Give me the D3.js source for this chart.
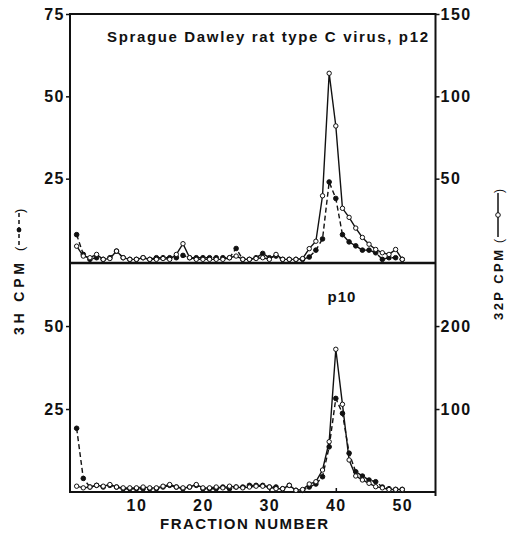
<!doctype html>
<html>
<head>
<meta charset="utf-8">
<script src="https://d3js.org/d3.v7.min.js"></script>
<style>
  body { margin: 0; background: #fff; }
  text { font-family: "Liberation Sans", Arial, sans-serif; font-weight: bold; fill: #111; }
</style>
</head>
<body>
<div id="chart"></div>
<script>
// fraction numbers 1..50
var fractions = d3.range(1, 51);

// top panel: Sprague Dawley rat type C virus, p12
var topH3 = [8, 2, 0.5, 1, 0.5, 1, 3, 1, 0.5, 0.5, 1, 0.5, 1, 1, 1, 1, 1.7, 1, 1, 1,
             1, 1, 1, 1, 3.8, 0.5, 0.5, 1, 2.3, 1, 1.5, 0.5, 0.5, 0.5, 0.5, 1.2, 3.3, 6.7, 24, 19,
             8, 5.8, 4.6, 3.3, 3.3, 2.5, 0.5, 1, 1, 0.5];
var topP32 = [9, 3, 2, 4, 1, 1.5, 6, 2, 1, 1, 2, 1, 1, 1.5, 1, 4, 10.5, 2, 1, 1,
              1, 1, 1, 2, 3, 1, 1, 1.5, 2, 1, 4, 1, 1, 1, 1.5, 7.5, 12, 39.6, 114, 82,
              32, 26.5, 20, 14.3, 10.2, 7, 5, 4, 7, 1];

// bottom panel: p10
var botH3 = [19.2, 4.1, 1.5, 2, 1.5, 2, 1.5, 1, 1, 1, 1, 1, 1, 1.5, 2, 1.5, 1, 1.5, 2, 1,
             1, 1, 1.5, 1, 1.5, 1.5, 2, 2, 2, 1.5, 1.5, 1, 2, 0.5, 0.5, 1.5, 2.4, 4.6, 13.6, 28.2,
             23.7, 11.7, 6.1, 4.8, 3.6, 3.1, 1.5, 1, 0.8, 0.8];
var botP32 = [7, 5, 6, 8, 7, 9, 6, 5, 5, 5, 6, 5, 5, 7, 9, 6, 5, 6, 9, 5,
              5, 6, 5, 7, 6, 5, 6, 7, 7, 6, 4, 4, 8, 2, 3, 9.6, 12.4, 26.5, 60.6, 172,
              105.7, 38.6, 19.3, 14.5, 10.5, 6.4, 5, 3, 3, 3];

var xTicks = [10, 20, 30, 40, 50];
var topLeftTicks = [25, 50, 75];
var topRightTicks = [50, 100, 150];
var botLeftTicks = [25, 50];
var botRightTicks = [100, 200];

var W = 507, H = 533;
var pLeft = 70, pRight = 435.5, pTop = 14, pMid = 263, pBottom = 492;

var svg = d3.select("#chart").append("svg")
  .attr("width", W).attr("height", H);

var x = d3.scaleLinear().domain([0, 55]).range([pLeft, pRight]);

var yTopL = d3.scaleLinear().domain([0, 75]).range([261, pTop]);
var yTopR = d3.scaleLinear().domain([0, 150]).range([261, pTop]);
var yBotL = d3.scaleLinear().domain([0, 69]).range([pBottom, pMid]);
var yBotR = d3.scaleLinear().domain([0, 276]).range([pBottom, pMid]);

// frame
var frame = svg.append("g").attr("stroke", "#111").attr("fill", "none");
frame.append("line").attr("x1", pLeft).attr("x2", pRight).attr("y1", pTop).attr("y2", pTop).attr("stroke-width", 2);
frame.append("line").attr("x1", pLeft).attr("x2", pRight).attr("y1", pMid).attr("y2", pMid).attr("stroke-width", 2.5);
frame.append("line").attr("x1", pLeft).attr("x2", pRight).attr("y1", pBottom).attr("y2", pBottom).attr("stroke-width", 2);
frame.append("line").attr("x1", pLeft).attr("x2", pLeft).attr("y1", pTop - 1).attr("y2", pBottom + 1).attr("stroke-width", 2);
frame.append("line").attr("x1", pRight).attr("x2", pRight).attr("y1", pTop - 1).attr("y2", pBottom + 4).attr("stroke-width", 2);

function styleAxis(g) {
  g.select(".domain").remove();
  g.selectAll(".tick line").attr("stroke", "#111").attr("stroke-width", 1.5);
  g.selectAll(".tick text").style("font-size", "16px").style("letter-spacing", "1.5px")
    .style("font-family", "'Liberation Sans', Arial, sans-serif").style("font-weight", "bold").attr("fill", "#111");
}

svg.append("g").attr("transform", "translate(" + pLeft + ",0)")
  .call(d3.axisLeft(yTopL).tickValues(topLeftTicks).tickSize(4).tickPadding(1)).call(styleAxis);
svg.append("g").attr("transform", "translate(" + pRight + ",0)")
  .call(d3.axisRight(yTopR).tickValues(topRightTicks).tickSize(4).tickPadding(1)).call(styleAxis);
svg.append("g").attr("transform", "translate(" + pLeft + ",0)")
  .call(d3.axisLeft(yBotL).tickValues(botLeftTicks).tickSize(4).tickPadding(1)).call(styleAxis);
svg.append("g").attr("transform", "translate(" + pRight + ",0)")
  .call(d3.axisRight(yBotR).tickValues(botRightTicks).tickSize(4).tickPadding(1)).call(styleAxis);
svg.append("g").attr("transform", "translate(0," + pBottom + ")")
  .call(d3.axisBottom(x).tickValues(xTicks).tickSize(-4).tickPadding(8)).call(styleAxis)
  .selectAll(".tick text").attr("dy", "0.71em");

// series
function drawSeries(vals, yScale, dashed, filled) {
  var line = d3.line().x(function(d, i) { return x(fractions[i]); }).y(function(d) { return yScale(d); });
  svg.append("path").datum(vals)
    .attr("d", line)
    .attr("fill", "none").attr("stroke", "#111")
    .attr("stroke-width", 1.4)
    .attr("stroke-dasharray", dashed ? "5,3" : null);
  svg.append("g").selectAll("circle").data(vals).enter().append("circle")
    .attr("cx", function(d, i) { return x(fractions[i]); })
    .attr("cy", function(d) { return yScale(d); })
    .attr("r", filled ? 2.3 : 2.2)
    .attr("fill", filled ? "#111" : "#fff")
    .attr("stroke", "#111").attr("stroke-width", 1);
}

drawSeries(topH3, yTopL, true, true);
drawSeries(topP32, yTopR, false, false);
drawSeries(botH3, yBotL, true, true);
drawSeries(botP32, yBotR, false, false);

// labels
svg.append("text").attr("x", 107).attr("y", 42)
  .attr("textLength", 321).attr("lengthAdjust", "spacing")
  .style("font-size", "15px").text("Sprague Dawley rat type C virus, p12");

svg.append("text").attr("x", 342).attr("y", 302).attr("text-anchor", "middle")
  .style("font-size", "15px").style("letter-spacing", "1px").text("p10");

svg.append("text").attr("x", 160).attr("y", 529)
  .attr("textLength", 168).attr("lengthAdjust", "spacing")
  .style("font-size", "15px").text("FRACTION NUMBER");

// left y label: 3H CPM (--•--)
var ll = svg.append("g").attr("transform", "translate(24,335) rotate(-90)");
ll.append("text").attr("x", 0).attr("y", 0)
  .attr("textLength", 72).attr("lengthAdjust", "spacing")
  .style("font-size", "14px").text("3H CPM");
ll.append("text").attr("x", 84).attr("y", 0).style("font-size", "13px").style("font-weight", "normal").text("(");
ll.append("line").attr("x1", 90).attr("x2", 122).attr("y1", -5).attr("y2", -5)
  .attr("stroke", "#111").attr("stroke-width", 1.5).attr("stroke-dasharray", "4,3");
ll.append("circle").attr("cx", 105).attr("cy", -5).attr("r", 2.4).attr("fill", "#111");
ll.append("text").attr("x", 122).attr("y", 0).style("font-size", "13px").style("font-weight", "normal").text(")");

// right y label: 32P CPM (—o—)
var rl = svg.append("g").attr("transform", "translate(503,320) rotate(-90)");
rl.append("text").attr("x", 0).attr("y", 0)
  .attr("textLength", 70).attr("lengthAdjust", "spacing")
  .style("font-size", "13px").text("32P CPM");
rl.append("text").attr("x", 77).attr("y", 0).style("font-size", "12px").style("font-weight", "normal").text("(");
rl.append("line").attr("x1", 83).attr("x2", 127).attr("y1", -5).attr("y2", -5)
  .attr("stroke", "#111").attr("stroke-width", 1.5);
rl.append("circle").attr("cx", 105).attr("cy", -5).attr("r", 2.3).attr("fill", "#fff")
  .attr("stroke", "#111").attr("stroke-width", 1);
rl.append("text").attr("x", 127).attr("y", 0).style("font-size", "12px").style("font-weight", "normal").text(")");
</script>
</body>
</html>
